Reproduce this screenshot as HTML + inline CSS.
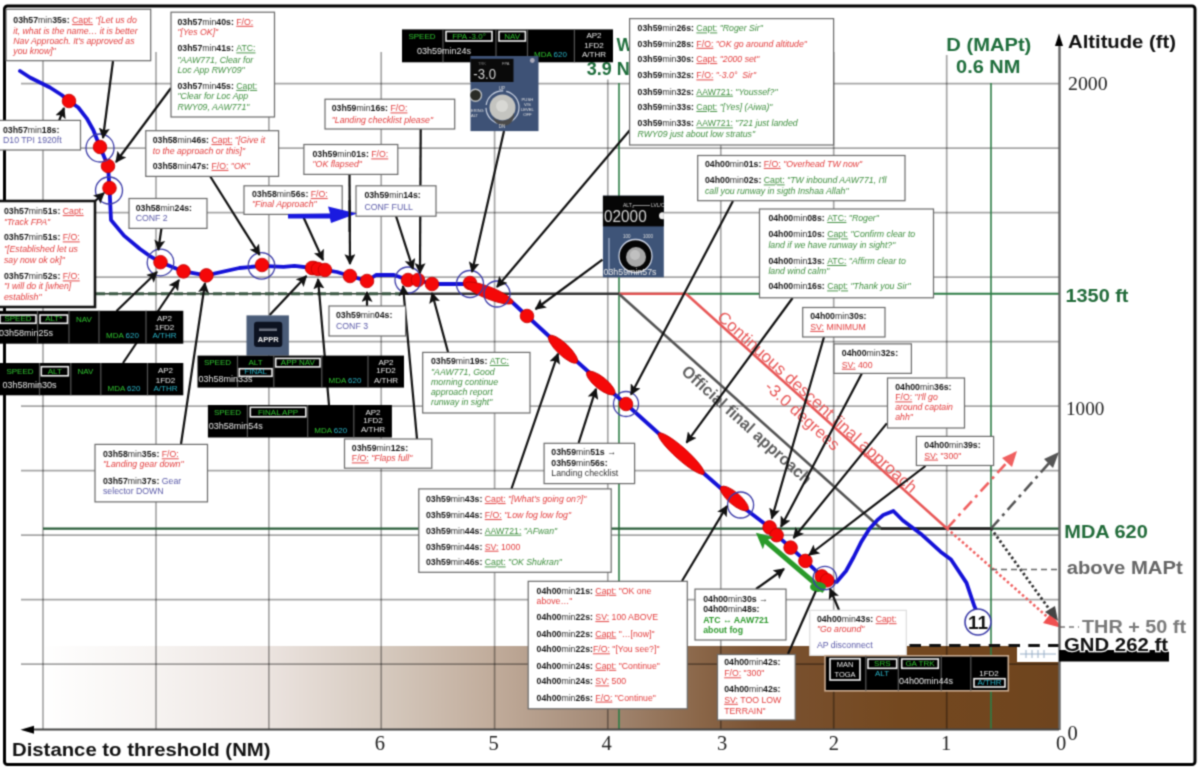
<!DOCTYPE html>
<html><head><meta charset="utf-8">
<style>
html,body{margin:0;padding:0;background:#fff;overflow:hidden;}
svg{display:block;font-family:"Liberation Sans",sans-serif;}
.serif{font-family:"Liberation Serif",serif;}
</style></head><body>
<svg width="1200" height="770" viewBox="0 0 1200 770">
<filter id="blr" x="0" y="0" width="1200" height="770" filterUnits="userSpaceOnUse" color-interpolation-filters="sRGB"><feConvolveMatrix order="3" kernelMatrix="0.04 0.12 0.04 0.12 0.36 0.12 0.04 0.12 0.04" edgeMode="duplicate"/></filter><g filter="url(#blr)"><defs>
<linearGradient id="gnd" x1="40" y1="0" x2="1059" y2="0" gradientUnits="userSpaceOnUse">
<stop offset="0.000" stop-color="#ffffff"/>
<stop offset="0.108" stop-color="#f7f4f2"/>
<stop offset="0.226" stop-color="#ebe3df"/>
<stop offset="0.334" stop-color="#d6cabf"/>
<stop offset="0.447" stop-color="#c0ab9a"/>
<stop offset="0.550" stop-color="#a48a76"/>
<stop offset="0.648" stop-color="#8a6648"/>
<stop offset="0.707" stop-color="#7a5232"/>
<stop offset="0.844" stop-color="#74481f"/>
<stop offset="1.000" stop-color="#6e441e"/>
</linearGradient>
<marker id="ah" viewBox="0 0 10 10" refX="9" refY="5" markerWidth="5" markerHeight="5" markerUnits="strokeWidth" orient="auto"><path d="M0,0 L10,5 L0,10 L2,5 z" fill="#111"/></marker>
<marker id="ahr" viewBox="0 0 10 10" refX="9" refY="5" markerWidth="5" markerHeight="5" markerUnits="strokeWidth" orient="auto"><path d="M0,0 L10,5 L0,10 L2,5 z" fill="#f05858"/></marker>
<marker id="ahg" viewBox="0 0 10 10" refX="9" refY="5" markerWidth="5" markerHeight="5" markerUnits="strokeWidth" orient="auto"><path d="M0,0 L10,5 L0,10 L2,5 z" fill="#666"/></marker>
<marker id="ahgr" viewBox="0 0 10 10" refX="5" refY="5" markerWidth="3.2" markerHeight="3.2" markerUnits="strokeWidth" orient="auto"><path d="M0,0 L10,5 L0,10 L2,5 z" fill="#2a9a2a"/></marker>
</defs>
<rect x="0" y="0" width="1200" height="770" fill="#fff"/>
<rect x="40" y="646" width="1019" height="83" fill="url(#gnd)"/>
<rect x="1017" y="645" width="42" height="17" fill="#fff"/>
<g stroke="#9ab0c8" stroke-width="1"><line x1="1020" y1="654" x2="1056" y2="654"/><line x1="1026" y1="650" x2="1026" y2="658"/><line x1="1032" y1="650" x2="1032" y2="658"/><line x1="1038" y1="650" x2="1038" y2="658"/><line x1="1044" y1="650" x2="1044" y2="658"/></g>
<g stroke="#000" stroke-opacity="0.35" stroke-width="1.7"><line x1="43" y1="52" x2="43" y2="729"/><line x1="156" y1="52" x2="156" y2="729"/><line x1="268.9" y1="52" x2="268.9" y2="729"/><line x1="381.2" y1="52" x2="381.2" y2="729"/><line x1="494.6" y1="52" x2="494.6" y2="729"/><line x1="607.8" y1="79.5" x2="607.8" y2="729"/><line x1="720.8" y1="52" x2="720.8" y2="729"/><line x1="833.7" y1="52" x2="833.7" y2="729"/><line x1="946.7" y1="55" x2="946.7" y2="729"/><line x1="21" y1="83.7" x2="1059" y2="83.7"/><line x1="21" y1="148.2" x2="1059" y2="148.2"/><line x1="21" y1="212.7" x2="1059" y2="212.7"/><line x1="21" y1="277.2" x2="1059" y2="277.2"/><line x1="21" y1="341.7" x2="1059" y2="341.7"/><line x1="21" y1="406.2" x2="1059" y2="406.2"/><line x1="21" y1="470.7" x2="1059" y2="470.7"/><line x1="21" y1="535.2" x2="1059" y2="535.2"/><line x1="21" y1="599.7" x2="1059" y2="599.7"/><line x1="21" y1="664.2" x2="1059" y2="664.2"/></g>
<line x1="619" y1="83" x2="619" y2="729" stroke="#2e7d46" stroke-width="1.6"/>
<line x1="991" y1="83" x2="991" y2="729" stroke="#2e7d46" stroke-width="1.6"/>
<line x1="43" y1="528.6" x2="1059" y2="528.6" stroke="#2a5e3a" stroke-width="2.2"/>
<line x1="96" y1="293.8" x2="400" y2="293.8" stroke="#2b3b2f" stroke-width="1.4"/>
<line x1="96" y1="293.8" x2="400" y2="293.8" stroke="#3d5a45" stroke-width="3" stroke-dasharray="9,4"/>
<line x1="400" y1="293.8" x2="619" y2="293.8" stroke="#333" stroke-width="2.6"/>
<line x1="619" y1="293.8" x2="1059" y2="293.8" stroke="#2e7d46" stroke-width="2"/>
<line x1="619" y1="293.8" x2="686" y2="293.8" stroke="#e05050" stroke-width="2.4"/>
<polyline points="619,294 880.8,528.3" fill="none" stroke="#555" stroke-width="2.6"/>
<line x1="880.8" y1="528.6" x2="991" y2="528.6" stroke="#222" stroke-width="2.8"/>
<line x1="686" y1="293.8" x2="947" y2="528.5" stroke="#e85858" stroke-width="2.6"/>
<line x1="947" y1="528.5" x2="1052" y2="621" stroke="#f06060" stroke-width="2.6" stroke-dasharray="2.5,2.5"/>
<path d="M1062,628 L1043,623 L1051,613 z" fill="#f05050"/>
<line x1="947" y1="528.5" x2="1010" y2="459" stroke="#f06060" stroke-width="2.6" stroke-dasharray="12,5,3,5"/>
<path d="M1017,451 L1002,458 L1012,467 z" fill="#f06060"/>
<line x1="991" y1="528.5" x2="1051" y2="461" stroke="#555" stroke-width="2.6" stroke-dasharray="12,5,3,5"/>
<path d="M1059,452 L1044,459 L1053,468 z" fill="#555"/>
<line x1="991" y1="528.5" x2="1052" y2="613" stroke="#333" stroke-width="2.8" stroke-dasharray="2.5,2.5"/>
<path d="M1058,621 L1045,612 L1055,606 z" fill="#444"/>
<line x1="991" y1="569.5" x2="1059" y2="569.5" stroke="#666" stroke-width="1.3" stroke-dasharray="6,4"/>
<line x1="1060" y1="627" x2="1079" y2="627" stroke="#777" stroke-width="1.4" stroke-dasharray="5,4"/>
<line x1="907" y1="645.5" x2="1059" y2="645.5" stroke="#111" stroke-width="2.8" stroke-dasharray="11.5,8.3" stroke-dashoffset="17.3"/>
<text transform="translate(743,429) rotate(42)" text-anchor="middle" font-size="16.5" font-weight="bold" fill="#5f5f5f" textLength="168" lengthAdjust="spacingAndGlyphs">Official final approach</text>
<text transform="translate(813.6,406.2) rotate(42)" text-anchor="middle" font-size="16.5" fill="#e85a5a" textLength="262" lengthAdjust="spacingAndGlyphs">Continuous descent final approach</text>
<text transform="translate(798.8,419.8) rotate(42)" text-anchor="middle" font-size="16.5" fill="#e85a5a" textLength="94" lengthAdjust="spacingAndGlyphs">-3.0 degrees</text>
<rect x="4.5" y="6" width="1190.5" height="758.5" rx="3" fill="none" stroke="#000" stroke-width="3"/>
<polyline points="20,71 30,77.5 50,87.5 61.7,95 69,101 78.3,107.5 86.7,118.3 93.3,130 100,147 108,166 109.5,188 111,220 124,235.6 140,249 149.5,255.8 160.5,262.2 183.5,271.4 206.4,275.4 239.4,268 261.5,265.9 283.5,266.8 294.5,265.9 312,268 325,270 337,272 350,276 367,281 376,275 394,275 408,280 418,280 432,284 442,284 456,284 470,284 497,294 512,302 527,316 563,349 601,383 626,404 681,453.5 740,505 769.6,527.4 776.6,535.2 790.6,547.6 805.4,560.9 821.8,576.4 827.2,580.3 836.6,581.9 846,571 853.7,557 861.5,541.4 869.3,529 877,520.4 883.3,515 893.4,511 902.9,520.5 922,534.8 940.5,551.7 951,559.5 966.5,582.9 974.3,606 977,612" fill="none" stroke="#1512d8" stroke-width="3.8" stroke-linejoin="round" stroke-linecap="round"/>
<circle cx="69" cy="101" r="6.8" fill="#f50808" stroke="#c00000" stroke-width="0.8"/>
<circle cx="100" cy="147" r="6.8" fill="#f50808" stroke="#c00000" stroke-width="0.8"/>
<circle cx="108" cy="166" r="6.8" fill="#f50808" stroke="#c00000" stroke-width="0.8"/>
<circle cx="109.5" cy="188" r="6.8" fill="#f50808" stroke="#c00000" stroke-width="0.8"/>
<circle cx="160.5" cy="262.2" r="6.8" fill="#f50808" stroke="#c00000" stroke-width="0.8"/>
<circle cx="183.5" cy="271.4" r="6.8" fill="#f50808" stroke="#c00000" stroke-width="0.8"/>
<circle cx="206.4" cy="275.4" r="6.8" fill="#f50808" stroke="#c00000" stroke-width="0.8"/>
<circle cx="262" cy="265" r="6.8" fill="#f50808" stroke="#c00000" stroke-width="0.8"/>
<circle cx="313.8" cy="268" r="6.8" fill="#f50808" stroke="#c00000" stroke-width="0.8"/>
<circle cx="312" cy="268" r="6.8" fill="#f50808" stroke="#c00000" stroke-width="0.8"/>
<circle cx="318" cy="269" r="6.8" fill="#f50808" stroke="#c00000" stroke-width="0.8"/>
<circle cx="325" cy="270" r="6.8" fill="#f50808" stroke="#c00000" stroke-width="0.8"/>
<circle cx="350" cy="276" r="6.8" fill="#f50808" stroke="#c00000" stroke-width="0.8"/>
<circle cx="367" cy="281" r="6.8" fill="#f50808" stroke="#c00000" stroke-width="0.8"/>
<circle cx="408" cy="280" r="6.8" fill="#f50808" stroke="#c00000" stroke-width="0.8"/>
<circle cx="418" cy="280" r="6.8" fill="#f50808" stroke="#c00000" stroke-width="0.8"/>
<circle cx="432" cy="284" r="6.8" fill="#f50808" stroke="#c00000" stroke-width="0.8"/>
<circle cx="470" cy="283" r="6.8" fill="#f50808" stroke="#c00000" stroke-width="0.8"/>
<circle cx="527" cy="316" r="6.8" fill="#f50808" stroke="#c00000" stroke-width="0.8"/>
<circle cx="626" cy="404" r="6.8" fill="#f50808" stroke="#c00000" stroke-width="0.8"/>
<circle cx="769.6" cy="527.4" r="6.8" fill="#f50808" stroke="#c00000" stroke-width="0.8"/>
<circle cx="776.6" cy="535.2" r="6.8" fill="#f50808" stroke="#c00000" stroke-width="0.8"/>
<circle cx="790.6" cy="547.6" r="6.8" fill="#f50808" stroke="#c00000" stroke-width="0.8"/>
<circle cx="805.4" cy="560.9" r="6.8" fill="#f50808" stroke="#c00000" stroke-width="0.8"/>
<circle cx="821.8" cy="576.4" r="6.8" fill="#f50808" stroke="#c00000" stroke-width="0.8"/>
<circle cx="827.2" cy="580.3" r="6.8" fill="#f50808" stroke="#c00000" stroke-width="0.8"/>
<ellipse cx="489.0" cy="293.0" rx="25.8" ry="6.0" transform="rotate(21.6 489.0 293.0)" fill="#f50808" stroke="#c00000" stroke-width="0.8"/>
<ellipse cx="563.0" cy="349.2" rx="19.3" ry="6.0" transform="rotate(43.4 563.0 349.2)" fill="#f50808" stroke="#c00000" stroke-width="0.8"/>
<ellipse cx="600.8" cy="383.0" rx="17.6" ry="6.0" transform="rotate(38.7 600.8 383.0)" fill="#f50808" stroke="#c00000" stroke-width="0.8"/>
<ellipse cx="681.2" cy="453.6" rx="30.5" ry="6.0" transform="rotate(41.7 681.2 453.6)" fill="#f50808" stroke="#c00000" stroke-width="0.8"/>
<ellipse cx="734.4" cy="498.5" rx="17.7" ry="6.0" transform="rotate(40.6 734.4 498.5)" fill="#f50808" stroke="#c00000" stroke-width="0.8"/>
<line x1="824" y1="591" x2="762" y2="538" stroke="#2a9a2a" stroke-width="5" marker-end="url(#ahgr)"/>
<ellipse cx="818" cy="587" rx="8" ry="5" fill="#2a9a2a"/>
<circle cx="100" cy="148" r="14" fill="none" stroke="#3c3ca8" stroke-width="1.3"/>
<circle cx="109" cy="190.5" r="13.5" fill="none" stroke="#3c3ca8" stroke-width="1.3"/>
<circle cx="160.5" cy="262.5" r="13.3" fill="none" stroke="#3c3ca8" stroke-width="1.3"/>
<circle cx="261.5" cy="265.9" r="13.3" fill="none" stroke="#3c3ca8" stroke-width="1.3"/>
<circle cx="408" cy="280" r="13" fill="none" stroke="#3c3ca8" stroke-width="1.3"/>
<circle cx="470" cy="284" r="13.5" fill="none" stroke="#3c3ca8" stroke-width="1.3"/>
<circle cx="497" cy="294" r="13" fill="none" stroke="#3c3ca8" stroke-width="1.3"/>
<circle cx="626" cy="404" r="12.5" fill="none" stroke="#3c3ca8" stroke-width="1.3"/>
<circle cx="740.6" cy="505" r="13" fill="none" stroke="#3c3ca8" stroke-width="1.3"/>
<circle cx="824.9" cy="578" r="11.7" fill="none" stroke="#3c3ca8" stroke-width="1.3"/>
<circle cx="978" cy="622" r="13" fill="#fff" stroke="#3c3ca8" stroke-width="1.6"/>
<text x="978" y="629" font-size="19" font-weight="bold" text-anchor="middle" fill="#111">11</text>
<line x1="113" y1="61" x2="103" y2="138" stroke="#111" stroke-width="2.2" marker-end="url(#ah)"/>
<line x1="171" y1="88" x2="116" y2="162" stroke="#111" stroke-width="2.2" marker-end="url(#ah)"/>
<line x1="59" y1="121" x2="64" y2="108" stroke="#111" stroke-width="2.2" marker-end="url(#ah)"/>
<line x1="93" y1="203" x2="104" y2="193" stroke="#111" stroke-width="2.2" marker-end="url(#ah)"/>
<line x1="210" y1="176" x2="259.6" y2="254.9" stroke="#111" stroke-width="2.2" marker-end="url(#ah)"/>
<line x1="161.5" y1="228" x2="158.3" y2="250" stroke="#111" stroke-width="2.2" marker-end="url(#ah)"/>
<line x1="302" y1="214" x2="323" y2="260" stroke="#111" stroke-width="2.2" marker-end="url(#ah)"/>
<line x1="349.5" y1="174" x2="350" y2="264" stroke="#111" stroke-width="2.2" marker-end="url(#ah)"/>
<line x1="420.7" y1="129" x2="420" y2="273" stroke="#111" stroke-width="2.2" marker-end="url(#ah)"/>
<line x1="396" y1="216" x2="413" y2="269" stroke="#111" stroke-width="2.2" marker-end="url(#ah)"/>
<line x1="504" y1="131" x2="472" y2="272" stroke="#111" stroke-width="2.2" marker-end="url(#ah)"/>
<line x1="630" y1="130" x2="497" y2="287" stroke="#111" stroke-width="2.2" marker-end="url(#ah)"/>
<line x1="269.7" y1="315" x2="306.4" y2="276" stroke="#111" stroke-width="2.2" marker-end="url(#ah)"/>
<line x1="116.5" y1="311" x2="157" y2="272" stroke="#111" stroke-width="2.2" marker-end="url(#ah)"/>
<line x1="123" y1="363" x2="179" y2="280" stroke="#111" stroke-width="2.2" marker-end="url(#ah)"/>
<line x1="181" y1="444" x2="205" y2="283" stroke="#111" stroke-width="2.2" marker-end="url(#ah)"/>
<line x1="329" y1="405" x2="318" y2="279" stroke="#111" stroke-width="2.2" marker-end="url(#ah)"/>
<line x1="367" y1="306" x2="367" y2="292" stroke="#111" stroke-width="2.2" marker-end="url(#ah)"/>
<line x1="417" y1="439" x2="403" y2="286" stroke="#111" stroke-width="2.2" marker-end="url(#ah)"/>
<line x1="448" y1="352" x2="432" y2="293" stroke="#111" stroke-width="2.2" marker-end="url(#ah)"/>
<line x1="602.5" y1="259.7" x2="535.6" y2="309" stroke="#111" stroke-width="2.2" marker-end="url(#ah)"/>
<line x1="733" y1="201" x2="631" y2="394.6" stroke="#111" stroke-width="2.2" marker-end="url(#ah)"/>
<line x1="511.4" y1="489" x2="558" y2="353.7" stroke="#111" stroke-width="2.2" marker-end="url(#ah)"/>
<line x1="578.6" y1="443" x2="596" y2="388.8" stroke="#111" stroke-width="2.2" marker-end="url(#ah)"/>
<line x1="792.6" y1="298" x2="686.5" y2="442.6" stroke="#111" stroke-width="2.2" marker-end="url(#ah)"/>
<line x1="682" y1="581" x2="727" y2="506" stroke="#111" stroke-width="2.2" marker-end="url(#ah)"/>
<line x1="824" y1="337" x2="771.8" y2="518.5" stroke="#111" stroke-width="2.2" marker-end="url(#ah)"/>
<line x1="861.8" y1="373.4" x2="781" y2="526.8" stroke="#111" stroke-width="2.2" marker-end="url(#ah)"/>
<line x1="886.8" y1="423.4" x2="793.6" y2="538" stroke="#111" stroke-width="2.2" marker-end="url(#ah)"/>
<line x1="925.5" y1="466" x2="809" y2="555" stroke="#111" stroke-width="2.2" marker-end="url(#ah)"/>
<line x1="756" y1="589" x2="784" y2="569" stroke="#111" stroke-width="2.2" marker-end="url(#ah)"/>
<line x1="839" y1="610" x2="830" y2="588.7" stroke="#111" stroke-width="2.2" marker-end="url(#ah)"/>
<line x1="788" y1="654" x2="815.8" y2="591" stroke="#111" stroke-width="2.2"/>
<text x="616.4" y="51.4" font-size="18" font-weight="bold" fill="#1f6e3c">W</text>
<text x="586.8" y="74.5" font-size="18" font-weight="bold" fill="#1f6e3c">3.9 NM</text>
<rect x="6" y="9.3" width="144.7" height="51.400000000000006" fill="#fff" stroke="#6a6a6a" stroke-width="1.2"/>
<text transform="translate(13.3,23.099999999999998) scale(0.94,1)" x="0" y="0" font-size="9.309" style="white-space:pre"><tspan font-weight="bold" fill="#151515">03h57</tspan><tspan fill="#2e2e2e">min</tspan><tspan font-weight="bold" fill="#151515">35s: </tspan><tspan fill="#e23c3c" text-decoration="underline">Capt:</tspan><tspan fill="#e23c3c" font-style="italic"> "[Let us do</tspan></text>
<text transform="translate(13.3,33.699999999999996) scale(0.94,1)" x="0" y="0" font-size="9.309" style="white-space:pre"><tspan fill="#e23c3c" font-style="italic">it, what is the name… it is better</tspan></text>
<text transform="translate(13.3,44.4) scale(0.94,1)" x="0" y="0" font-size="9.309" style="white-space:pre"><tspan fill="#e23c3c" font-style="italic">Nav Approach. It's approved as</tspan></text>
<text transform="translate(13.3,54.4) scale(0.94,1)" x="0" y="0" font-size="9.309" style="white-space:pre"><tspan fill="#e23c3c" font-style="italic">you know]"</tspan></text>
<rect x="171" y="12.2" width="103.5" height="104.8" fill="#fff" stroke="#6a6a6a" stroke-width="1.2"/>
<text transform="translate(177.5,24.799999999999997) scale(0.94,1)" x="0" y="0" font-size="9.309" style="white-space:pre"><tspan font-weight="bold" fill="#151515">03h57</tspan><tspan fill="#2e2e2e">min</tspan><tspan font-weight="bold" fill="#151515">40s: </tspan><tspan fill="#e23c3c" text-decoration="underline">F/O:</tspan></text>
<text transform="translate(177.5,35.4) scale(0.94,1)" x="0" y="0" font-size="9.309" style="white-space:pre"><tspan fill="#e23c3c" font-style="italic">"[Yes OK]"</tspan></text>
<text transform="translate(177.5,51.4) scale(0.94,1)" x="0" y="0" font-size="9.309" style="white-space:pre"><tspan font-weight="bold" fill="#151515">03h57</tspan><tspan fill="#2e2e2e">min</tspan><tspan font-weight="bold" fill="#151515">41s: </tspan><tspan fill="#3f8f3f" text-decoration="underline">ATC:</tspan></text>
<text transform="translate(177.5,62.9) scale(0.94,1)" x="0" y="0" font-size="9.309" style="white-space:pre"><tspan fill="#3f8f3f" font-style="italic">"AAW771, Clear for</tspan></text>
<text transform="translate(177.5,73.4) scale(0.94,1)" x="0" y="0" font-size="9.309" style="white-space:pre"><tspan fill="#3f8f3f" font-style="italic">Loc App RWY09"</tspan></text>
<text transform="translate(177.5,88.9) scale(0.94,1)" x="0" y="0" font-size="9.309" style="white-space:pre"><tspan font-weight="bold" fill="#151515">03h57</tspan><tspan fill="#2e2e2e">min</tspan><tspan font-weight="bold" fill="#151515">45s: </tspan><tspan fill="#3f8f3f" text-decoration="underline">Capt:</tspan></text>
<text transform="translate(177.5,99.4) scale(0.94,1)" x="0" y="0" font-size="9.309" style="white-space:pre"><tspan fill="#3f8f3f" font-style="italic">"Clear for Loc App</tspan></text>
<text transform="translate(177.5,110.0) scale(0.94,1)" x="0" y="0" font-size="9.309" style="white-space:pre"><tspan fill="#3f8f3f" font-style="italic">RWY09, AAW771"</tspan></text>
<rect x="-2" y="120.4" width="82.5" height="29.599999999999994" fill="#fff" stroke="#6a6a6a" stroke-width="1.2"/>
<text transform="translate(3,133.1) scale(0.94,1)" x="0" y="0" font-size="9.309" style="white-space:pre"><tspan font-weight="bold" fill="#151515">03h57</tspan><tspan fill="#2e2e2e">min</tspan><tspan font-weight="bold" fill="#151515">18s:</tspan></text>
<text transform="translate(3,143.4) scale(0.94,1)" x="0" y="0" font-size="9.309" style="white-space:pre"><tspan fill="#5a5aa8">D10 TPI 1920ft</tspan></text>
<rect x="145.8" y="130.7" width="132.8" height="45.70000000000002" fill="#fff" stroke="#6a6a6a" stroke-width="1.2"/>
<text transform="translate(152.7,143.1) scale(0.94,1)" x="0" y="0" font-size="9.309" style="white-space:pre"><tspan font-weight="bold" fill="#151515">03h58</tspan><tspan fill="#2e2e2e">min</tspan><tspan font-weight="bold" fill="#151515">46s: </tspan><tspan fill="#e23c3c" text-decoration="underline">Capt:</tspan><tspan fill="#e23c3c" font-style="italic"> "[Give it</tspan></text>
<text transform="translate(152.7,153.6) scale(0.94,1)" x="0" y="0" font-size="9.309" style="white-space:pre"><tspan fill="#e23c3c" font-style="italic">to the approach or this]"</tspan></text>
<text transform="translate(152.7,168.9) scale(0.94,1)" x="0" y="0" font-size="9.309" style="white-space:pre"><tspan font-weight="bold" fill="#151515">03h58</tspan><tspan fill="#2e2e2e">min</tspan><tspan font-weight="bold" fill="#151515">47s: </tspan><tspan fill="#e23c3c" text-decoration="underline">F/O:</tspan><tspan fill="#e23c3c" font-style="italic"> "OK"</tspan></text>
<rect x="-2" y="201" width="97" height="106" fill="#fff" stroke="#111" stroke-width="2.6"/>
<text transform="translate(4,214.1) scale(0.94,1)" x="0" y="0" font-size="9.309" style="white-space:pre"><tspan font-weight="bold" fill="#151515">03h57</tspan><tspan fill="#2e2e2e">min</tspan><tspan font-weight="bold" fill="#151515">51s: </tspan><tspan fill="#e23c3c" text-decoration="underline">Capt:</tspan></text>
<text transform="translate(4,225.0) scale(0.94,1)" x="0" y="0" font-size="9.309" style="white-space:pre"><tspan fill="#e23c3c" font-style="italic">"Track FPA"</tspan></text>
<text transform="translate(4,240.4) scale(0.94,1)" x="0" y="0" font-size="9.309" style="white-space:pre"><tspan font-weight="bold" fill="#151515">03h57</tspan><tspan fill="#2e2e2e">min</tspan><tspan font-weight="bold" fill="#151515">51s: </tspan><tspan fill="#e23c3c" text-decoration="underline">F/O:</tspan></text>
<text transform="translate(4,252.4) scale(0.94,1)" x="0" y="0" font-size="9.309" style="white-space:pre"><tspan fill="#e23c3c" font-style="italic">"[Established let us</tspan></text>
<text transform="translate(4,263.2) scale(0.94,1)" x="0" y="0" font-size="9.309" style="white-space:pre"><tspan fill="#e23c3c" font-style="italic">say now ok ok]"</tspan></text>
<text transform="translate(4,279.4) scale(0.94,1)" x="0" y="0" font-size="9.309" style="white-space:pre"><tspan font-weight="bold" fill="#151515">03h57</tspan><tspan fill="#2e2e2e">min</tspan><tspan font-weight="bold" fill="#151515">52s: </tspan><tspan fill="#e23c3c" text-decoration="underline">F/O:</tspan></text>
<text transform="translate(4,289.4) scale(0.94,1)" x="0" y="0" font-size="9.309" style="white-space:pre"><tspan fill="#e23c3c" font-style="italic">"I will do it [when]</tspan></text>
<text transform="translate(4,299.79999999999995) scale(0.94,1)" x="0" y="0" font-size="9.309" style="white-space:pre"><tspan fill="#e23c3c" font-style="italic">establish"</tspan></text>
<rect x="129" y="198.5" width="78" height="29.900000000000006" fill="#fff" stroke="#6a6a6a" stroke-width="1.2"/>
<text transform="translate(135.7,210.9) scale(0.94,1)" x="0" y="0" font-size="9.309" style="white-space:pre"><tspan font-weight="bold" fill="#151515">03h58</tspan><tspan fill="#2e2e2e">min</tspan><tspan font-weight="bold" fill="#151515">24s:</tspan></text>
<text transform="translate(135.7,221.4) scale(0.94,1)" x="0" y="0" font-size="9.309" style="white-space:pre"><tspan fill="#5a5aa8">CONF 2</tspan></text>
<rect x="244" y="185.8" width="98.19999999999999" height="28.599999999999994" fill="#fff" stroke="#6a6a6a" stroke-width="1.2"/>
<text transform="translate(252,197.1) scale(0.94,1)" x="0" y="0" font-size="9.309" style="white-space:pre"><tspan font-weight="bold" fill="#151515">03h58</tspan><tspan fill="#2e2e2e">min</tspan><tspan font-weight="bold" fill="#151515">56s: </tspan><tspan fill="#e23c3c" text-decoration="underline">F/O:</tspan></text>
<text transform="translate(252,207.1) scale(0.94,1)" x="0" y="0" font-size="9.309" style="white-space:pre"><tspan fill="#e23c3c" font-style="italic">"Final Approach"</tspan></text>
<rect x="303.9" y="144.5" width="93.90000000000003" height="29.900000000000006" fill="#fff" stroke="#6a6a6a" stroke-width="1.2"/>
<text transform="translate(312.5,157.4) scale(0.94,1)" x="0" y="0" font-size="9.309" style="white-space:pre"><tspan font-weight="bold" fill="#151515">03h59</tspan><tspan fill="#2e2e2e">min</tspan><tspan font-weight="bold" fill="#151515">01s: </tspan><tspan fill="#e23c3c" text-decoration="underline">F/O:</tspan></text>
<text transform="translate(312.5,167.4) scale(0.94,1)" x="0" y="0" font-size="9.309" style="white-space:pre"><tspan fill="#e23c3c" font-style="italic">"OK flapsed"</tspan></text>
<rect x="325" y="99.2" width="129.7" height="29.799999999999997" fill="#fff" stroke="#6a6a6a" stroke-width="1.2"/>
<text transform="translate(331.7,111.4) scale(0.94,1)" x="0" y="0" font-size="9.309" style="white-space:pre"><tspan font-weight="bold" fill="#151515">03h59</tspan><tspan fill="#2e2e2e">min</tspan><tspan font-weight="bold" fill="#151515">16s: </tspan><tspan fill="#e23c3c" text-decoration="underline">F/O:</tspan></text>
<text transform="translate(331.7,123.4) scale(0.94,1)" x="0" y="0" font-size="9.309" style="white-space:pre"><tspan fill="#e23c3c" font-style="italic">"Landing checklist please"</tspan></text>
<rect x="356" y="185.8" width="80" height="30.399999999999977" fill="#fff" stroke="#6a6a6a" stroke-width="1.2"/>
<text transform="translate(364.4,198.4) scale(0.94,1)" x="0" y="0" font-size="9.309" style="white-space:pre"><tspan font-weight="bold" fill="#151515">03h59</tspan><tspan fill="#2e2e2e">min</tspan><tspan font-weight="bold" fill="#151515">14s:</tspan></text>
<text transform="translate(364.4,209.70000000000002) scale(0.94,1)" x="0" y="0" font-size="9.309" style="white-space:pre"><tspan fill="#5a5aa8">CONF FULL</tspan></text>
<rect x="329" y="306" width="76.60000000000002" height="30" fill="#fff" stroke="#6a6a6a" stroke-width="1.2"/>
<text transform="translate(336,318.4) scale(0.94,1)" x="0" y="0" font-size="9.309" style="white-space:pre"><tspan font-weight="bold" fill="#151515">03h59</tspan><tspan fill="#2e2e2e">min</tspan><tspan font-weight="bold" fill="#151515">04s:</tspan></text>
<text transform="translate(336,328.9) scale(0.94,1)" x="0" y="0" font-size="9.309" style="white-space:pre"><tspan fill="#5a5aa8">CONF 3</tspan></text>
<rect x="422.7" y="352.4" width="107.30000000000001" height="60.60000000000002" fill="#fff" stroke="#6a6a6a" stroke-width="1.2"/>
<text transform="translate(431,364.0) scale(0.94,1)" x="0" y="0" font-size="9.309" style="white-space:pre"><tspan font-weight="bold" fill="#151515">03h59</tspan><tspan fill="#2e2e2e">min</tspan><tspan font-weight="bold" fill="#151515">19s: </tspan><tspan fill="#3f8f3f" text-decoration="underline">ATC:</tspan></text>
<text transform="translate(431,374.9) scale(0.94,1)" x="0" y="0" font-size="9.309" style="white-space:pre"><tspan fill="#3f8f3f" font-style="italic">"AAW771, Good</tspan></text>
<text transform="translate(431,384.9) scale(0.94,1)" x="0" y="0" font-size="9.309" style="white-space:pre"><tspan fill="#3f8f3f" font-style="italic">morning continue</tspan></text>
<text transform="translate(431,394.9) scale(0.94,1)" x="0" y="0" font-size="9.309" style="white-space:pre"><tspan fill="#3f8f3f" font-style="italic">approach report</tspan></text>
<text transform="translate(431,404.9) scale(0.94,1)" x="0" y="0" font-size="9.309" style="white-space:pre"><tspan fill="#3f8f3f" font-style="italic">runway in sight"</tspan></text>
<rect x="344.5" y="439" width="87.30000000000001" height="29.19999999999999" fill="#fff" stroke="#6a6a6a" stroke-width="1.2"/>
<text transform="translate(351.8,451.4) scale(0.94,1)" x="0" y="0" font-size="9.309" style="white-space:pre"><tspan font-weight="bold" fill="#151515">03h59</tspan><tspan fill="#2e2e2e">min</tspan><tspan font-weight="bold" fill="#151515">12s:</tspan></text>
<text transform="translate(351.8,461.4) scale(0.94,1)" x="0" y="0" font-size="9.309" style="white-space:pre"><tspan fill="#e23c3c" text-decoration="underline">F/O:</tspan><tspan fill="#e23c3c" font-style="italic"> "Flaps full"</tspan></text>
<rect x="95" y="444.4" width="112.5" height="57.5" fill="#fff" stroke="#6a6a6a" stroke-width="1.2"/>
<text transform="translate(103,457.29999999999995) scale(0.94,1)" x="0" y="0" font-size="9.309" style="white-space:pre"><tspan font-weight="bold" fill="#151515">03h58</tspan><tspan fill="#2e2e2e">min</tspan><tspan font-weight="bold" fill="#151515">35s: </tspan><tspan fill="#e23c3c" text-decoration="underline">F/O:</tspan></text>
<text transform="translate(103,466.7) scale(0.94,1)" x="0" y="0" font-size="9.309" style="white-space:pre"><tspan fill="#e23c3c" font-style="italic">"Landing gear down"</tspan></text>
<text transform="translate(103,484.2) scale(0.94,1)" x="0" y="0" font-size="9.309" style="white-space:pre"><tspan font-weight="bold" fill="#151515">03h57</tspan><tspan fill="#2e2e2e">min</tspan><tspan font-weight="bold" fill="#151515">37s: </tspan><tspan fill="#5a5aa8">Gear</tspan></text>
<text transform="translate(103,494.2) scale(0.94,1)" x="0" y="0" font-size="9.309" style="white-space:pre"><tspan fill="#5a5aa8">selector DOWN</tspan></text>
<rect x="629.6" y="18.6" width="204.0" height="126.4" fill="#fff" stroke="#6a6a6a" stroke-width="1.2"/>
<text transform="translate(637.6,31.4) scale(0.94,1)" x="0" y="0" font-size="9.309" style="white-space:pre"><tspan font-weight="bold" fill="#151515">03h59</tspan><tspan fill="#2e2e2e">min</tspan><tspan font-weight="bold" fill="#151515">26s: </tspan><tspan fill="#3f8f3f" text-decoration="underline">Capt:</tspan><tspan fill="#3f8f3f" font-style="italic"> "Roger Sir"</tspan></text>
<text transform="translate(637.6,46.8) scale(0.94,1)" x="0" y="0" font-size="9.309" style="white-space:pre"><tspan font-weight="bold" fill="#151515">03h59</tspan><tspan fill="#2e2e2e">min</tspan><tspan font-weight="bold" fill="#151515">28s: </tspan><tspan fill="#e23c3c" text-decoration="underline">F/O:</tspan><tspan fill="#e23c3c" font-style="italic"> "OK go around altitude"</tspan></text>
<text transform="translate(637.6,62.1) scale(0.94,1)" x="0" y="0" font-size="9.309" style="white-space:pre"><tspan font-weight="bold" fill="#151515">03h59</tspan><tspan fill="#2e2e2e">min</tspan><tspan font-weight="bold" fill="#151515">30s: </tspan><tspan fill="#e23c3c" text-decoration="underline">Capt:</tspan><tspan fill="#e23c3c" font-style="italic"> "2000 set"</tspan></text>
<text transform="translate(637.6,78.4) scale(0.94,1)" x="0" y="0" font-size="9.309" style="white-space:pre"><tspan font-weight="bold" fill="#151515">03h59</tspan><tspan fill="#2e2e2e">min</tspan><tspan font-weight="bold" fill="#151515">32s: </tspan><tspan fill="#e23c3c" text-decoration="underline">F/O:</tspan><tspan fill="#e23c3c" font-style="italic"> "-3.0°  Sir"</tspan></text>
<text transform="translate(637.6,94.7) scale(0.94,1)" x="0" y="0" font-size="9.309" style="white-space:pre"><tspan font-weight="bold" fill="#151515">03h59</tspan><tspan fill="#2e2e2e">min</tspan><tspan font-weight="bold" fill="#151515">32s: </tspan><tspan fill="#3f8f3f" text-decoration="underline">AAW721:</tspan><tspan fill="#3f8f3f" font-style="italic"> "Youssef?"</tspan></text>
<text transform="translate(637.6,110.0) scale(0.94,1)" x="0" y="0" font-size="9.309" style="white-space:pre"><tspan font-weight="bold" fill="#151515">03h59</tspan><tspan fill="#2e2e2e">min</tspan><tspan font-weight="bold" fill="#151515">33s: </tspan><tspan fill="#3f8f3f" text-decoration="underline">Capt:</tspan><tspan fill="#3f8f3f" font-style="italic"> "[Yes] (Aiwa)"</tspan></text>
<text transform="translate(637.6,126.4) scale(0.94,1)" x="0" y="0" font-size="9.309" style="white-space:pre"><tspan font-weight="bold" fill="#151515">03h59</tspan><tspan fill="#2e2e2e">min</tspan><tspan font-weight="bold" fill="#151515">33s: </tspan><tspan fill="#3f8f3f" text-decoration="underline">AAW721:</tspan><tspan fill="#3f8f3f" font-style="italic"> "721 just landed</tspan></text>
<text transform="translate(637.6,136.8) scale(0.94,1)" x="0" y="0" font-size="9.309" style="white-space:pre"><tspan fill="#3f8f3f" font-style="italic">RWY09 just about low stratus"</tspan></text>
<rect x="697.7" y="155.5" width="207.29999999999995" height="45.19999999999999" fill="#fff" stroke="#6a6a6a" stroke-width="1.2"/>
<text transform="translate(705,166.9) scale(0.94,1)" x="0" y="0" font-size="9.309" style="white-space:pre"><tspan font-weight="bold" fill="#151515">04h00</tspan><tspan fill="#2e2e2e">min</tspan><tspan font-weight="bold" fill="#151515">01s: </tspan><tspan fill="#e23c3c" text-decoration="underline">F/O:</tspan><tspan fill="#e23c3c" font-style="italic"> "Overhead TW now"</tspan></text>
<text transform="translate(705,183.4) scale(0.94,1)" x="0" y="0" font-size="9.309" style="white-space:pre"><tspan font-weight="bold" fill="#151515">04h00</tspan><tspan fill="#2e2e2e">min</tspan><tspan font-weight="bold" fill="#151515">02s: </tspan><tspan fill="#3f8f3f" text-decoration="underline">Capt:</tspan><tspan fill="#3f8f3f" font-style="italic"> "TW inbound AAW771, I'll</tspan></text>
<text transform="translate(705,194.4) scale(0.94,1)" x="0" y="0" font-size="9.309" style="white-space:pre"><tspan fill="#3f8f3f" font-style="italic">call you runway in sigth Inshaa Allah"</tspan></text>
<rect x="759.5" y="209" width="174.0" height="88.80000000000001" fill="#fff" stroke="#6a6a6a" stroke-width="1.2"/>
<text transform="translate(768.4,221.0) scale(0.94,1)" x="0" y="0" font-size="9.309" style="white-space:pre"><tspan font-weight="bold" fill="#151515">04h00</tspan><tspan fill="#2e2e2e">min</tspan><tspan font-weight="bold" fill="#151515">08s: </tspan><tspan fill="#3f8f3f" text-decoration="underline">ATC:</tspan><tspan fill="#3f8f3f" font-style="italic"> "Roger"</tspan></text>
<text transform="translate(768.4,237.4) scale(0.94,1)" x="0" y="0" font-size="9.309" style="white-space:pre"><tspan font-weight="bold" fill="#151515">04h00</tspan><tspan fill="#2e2e2e">min</tspan><tspan font-weight="bold" fill="#151515">10s: </tspan><tspan fill="#3f8f3f" text-decoration="underline">Capt:</tspan><tspan fill="#3f8f3f" font-style="italic"> "Confirm clear to</tspan></text>
<text transform="translate(768.4,248.4) scale(0.94,1)" x="0" y="0" font-size="9.309" style="white-space:pre"><tspan fill="#3f8f3f" font-style="italic">land if we have runway in sight?"</tspan></text>
<text transform="translate(768.4,264.0) scale(0.94,1)" x="0" y="0" font-size="9.309" style="white-space:pre"><tspan font-weight="bold" fill="#151515">04h00</tspan><tspan fill="#2e2e2e">min</tspan><tspan font-weight="bold" fill="#151515">13s: </tspan><tspan fill="#3f8f3f" text-decoration="underline">ATC:</tspan><tspan fill="#3f8f3f" font-style="italic"> "Affirm clear to</tspan></text>
<text transform="translate(768.4,273.9) scale(0.94,1)" x="0" y="0" font-size="9.309" style="white-space:pre"><tspan fill="#3f8f3f" font-style="italic">land wind calm"</tspan></text>
<text transform="translate(768.4,289.4) scale(0.94,1)" x="0" y="0" font-size="9.309" style="white-space:pre"><tspan font-weight="bold" fill="#151515">04h00</tspan><tspan fill="#2e2e2e">min</tspan><tspan font-weight="bold" fill="#151515">16s: </tspan><tspan fill="#3f8f3f" text-decoration="underline">Capt:</tspan><tspan fill="#3f8f3f" font-style="italic"> "Thank you Sir"</tspan></text>
<rect x="802.7" y="307.5" width="82.29999999999995" height="29.5" fill="#fff" stroke="#6a6a6a" stroke-width="1.2"/>
<text transform="translate(810.2,319.29999999999995) scale(0.94,1)" x="0" y="0" font-size="9.309" style="white-space:pre"><tspan font-weight="bold" fill="#151515">04h00</tspan><tspan fill="#2e2e2e">min</tspan><tspan font-weight="bold" fill="#151515">30s:</tspan></text>
<text transform="translate(810.2,329.9) scale(0.94,1)" x="0" y="0" font-size="9.309" style="white-space:pre"><tspan fill="#e23c3c" text-decoration="underline">SV:</tspan><tspan fill="#e23c3c"> MINIMUM</tspan></text>
<rect x="834" y="343.9" width="77.39999999999998" height="29.5" fill="#fff" stroke="#6a6a6a" stroke-width="1.2"/>
<text transform="translate(841.8,356.4) scale(0.94,1)" x="0" y="0" font-size="9.309" style="white-space:pre"><tspan font-weight="bold" fill="#151515">04h00</tspan><tspan fill="#2e2e2e">min</tspan><tspan font-weight="bold" fill="#151515">32s:</tspan></text>
<text transform="translate(841.8,367.7) scale(0.94,1)" x="0" y="0" font-size="9.309" style="white-space:pre"><tspan fill="#e23c3c" text-decoration="underline">SV:</tspan><tspan fill="#e23c3c"> 400</tspan></text>
<rect x="887.5" y="378" width="77.0" height="50" fill="#fff" stroke="#6a6a6a" stroke-width="1.2"/>
<text transform="translate(895.2,389.7) scale(0.94,1)" x="0" y="0" font-size="9.309" style="white-space:pre"><tspan font-weight="bold" fill="#151515">04h00</tspan><tspan fill="#2e2e2e">min</tspan><tspan font-weight="bold" fill="#151515">36s:</tspan></text>
<text transform="translate(895.2,400.4) scale(0.94,1)" x="0" y="0" font-size="9.309" style="white-space:pre"><tspan fill="#e23c3c" text-decoration="underline">F/O:</tspan><tspan fill="#e23c3c" font-style="italic"> "I'll go</tspan></text>
<text transform="translate(895.2,410.2) scale(0.94,1)" x="0" y="0" font-size="9.309" style="white-space:pre"><tspan fill="#e23c3c" font-style="italic">around captain</tspan></text>
<text transform="translate(895.2,420.4) scale(0.94,1)" x="0" y="0" font-size="9.309" style="white-space:pre"><tspan fill="#e23c3c" font-style="italic">ahh"</tspan></text>
<rect x="916.4" y="436.4" width="77.20000000000005" height="29.100000000000023" fill="#fff" stroke="#6a6a6a" stroke-width="1.2"/>
<text transform="translate(924.3,448.09999999999997) scale(0.94,1)" x="0" y="0" font-size="9.309" style="white-space:pre"><tspan font-weight="bold" fill="#151515">04h00</tspan><tspan fill="#2e2e2e">min</tspan><tspan font-weight="bold" fill="#151515">39s:</tspan></text>
<text transform="translate(924.3,458.59999999999997) scale(0.94,1)" x="0" y="0" font-size="9.309" style="white-space:pre"><tspan fill="#e23c3c" text-decoration="underline">SV:</tspan><tspan fill="#e23c3c"> "300"</tspan></text>
<rect x="544.1" y="443.3" width="90.5" height="40.30000000000001" fill="#fff" stroke="#6a6a6a" stroke-width="1.2"/>
<text transform="translate(551.3,455.4) scale(0.94,1)" x="0" y="0" font-size="9.309" style="white-space:pre"><tspan font-weight="bold" fill="#151515">03h59</tspan><tspan fill="#2e2e2e">min</tspan><tspan font-weight="bold" fill="#151515">51s </tspan><tspan fill="#333">→</tspan></text>
<text transform="translate(551.3,465.9) scale(0.94,1)" x="0" y="0" font-size="9.309" style="white-space:pre"><tspan font-weight="bold" fill="#151515">03h59</tspan><tspan fill="#2e2e2e">min</tspan><tspan font-weight="bold" fill="#151515">56s:</tspan></text>
<text transform="translate(551.3,476.2) scale(0.94,1)" x="0" y="0" font-size="9.309" style="white-space:pre"><tspan fill="#333">Landing checklist</tspan></text>
<rect x="418.8" y="488.9" width="192.40000000000003" height="83.39999999999998" fill="#fff" stroke="#6a6a6a" stroke-width="1.2"/>
<text transform="translate(426,502.09999999999997) scale(0.94,1)" x="0" y="0" font-size="9.309" style="white-space:pre"><tspan font-weight="bold" fill="#151515">03h59</tspan><tspan fill="#2e2e2e">min</tspan><tspan font-weight="bold" fill="#151515">43s: </tspan><tspan fill="#e23c3c" text-decoration="underline">Capt:</tspan><tspan fill="#e23c3c" font-style="italic"> "[What's going on?]"</tspan></text>
<text transform="translate(426,518.1) scale(0.94,1)" x="0" y="0" font-size="9.309" style="white-space:pre"><tspan font-weight="bold" fill="#151515">03h59</tspan><tspan fill="#2e2e2e">min</tspan><tspan font-weight="bold" fill="#151515">44s: </tspan><tspan fill="#e23c3c" text-decoration="underline">F/O:</tspan><tspan fill="#e23c3c" font-style="italic"> "Low fog low fog"</tspan></text>
<text transform="translate(426,533.6999999999999) scale(0.94,1)" x="0" y="0" font-size="9.309" style="white-space:pre"><tspan font-weight="bold" fill="#151515">03h59</tspan><tspan fill="#2e2e2e">min</tspan><tspan font-weight="bold" fill="#151515">44s: </tspan><tspan fill="#3f8f3f" text-decoration="underline">AAW721:</tspan><tspan fill="#3f8f3f" font-style="italic"> "AFwan"</tspan></text>
<text transform="translate(426,549.6999999999999) scale(0.94,1)" x="0" y="0" font-size="9.309" style="white-space:pre"><tspan font-weight="bold" fill="#151515">03h59</tspan><tspan fill="#2e2e2e">min</tspan><tspan font-weight="bold" fill="#151515">44s: </tspan><tspan fill="#e23c3c" text-decoration="underline">SV:</tspan><tspan fill="#e23c3c"> 1000</tspan></text>
<text transform="translate(426,565.4) scale(0.94,1)" x="0" y="0" font-size="9.309" style="white-space:pre"><tspan font-weight="bold" fill="#151515">03h59</tspan><tspan fill="#2e2e2e">min</tspan><tspan font-weight="bold" fill="#151515">46s: </tspan><tspan fill="#3f8f3f" text-decoration="underline">Capt:</tspan><tspan fill="#3f8f3f" font-style="italic"> "OK Shukran"</tspan></text>
<rect x="528.2" y="581.3" width="159.0999999999999" height="127.5" fill="#fff" stroke="#6a6a6a" stroke-width="1.2"/>
<text transform="translate(536.6,593.8) scale(0.94,1)" x="0" y="0" font-size="9.309" style="white-space:pre"><tspan font-weight="bold" fill="#151515">04h00</tspan><tspan fill="#2e2e2e">min</tspan><tspan font-weight="bold" fill="#151515">21s: </tspan><tspan fill="#e23c3c" text-decoration="underline">Capt:</tspan><tspan fill="#e23c3c"> "OK one</tspan></text>
<text transform="translate(536.6,603.5) scale(0.94,1)" x="0" y="0" font-size="9.309" style="white-space:pre"><tspan fill="#e23c3c">above…"</tspan></text>
<text transform="translate(536.6,620.1) scale(0.94,1)" x="0" y="0" font-size="9.309" style="white-space:pre"><tspan font-weight="bold" fill="#151515">04h00</tspan><tspan fill="#2e2e2e">min</tspan><tspan font-weight="bold" fill="#151515">22s: </tspan><tspan fill="#e23c3c" text-decoration="underline">SV:</tspan><tspan fill="#e23c3c"> 100 ABOVE</tspan></text>
<text transform="translate(536.6,636.6999999999999) scale(0.94,1)" x="0" y="0" font-size="9.309" style="white-space:pre"><tspan font-weight="bold" fill="#151515">04h00</tspan><tspan fill="#2e2e2e">min</tspan><tspan font-weight="bold" fill="#151515">22s: </tspan><tspan fill="#e23c3c" text-decoration="underline">Capt:</tspan><tspan fill="#e23c3c"> "…[now]"</tspan></text>
<text transform="translate(536.6,652.3) scale(0.94,1)" x="0" y="0" font-size="9.309" style="white-space:pre"><tspan font-weight="bold" fill="#151515">04h00</tspan><tspan fill="#2e2e2e">min</tspan><tspan font-weight="bold" fill="#151515">22s:</tspan><tspan fill="#e23c3c" text-decoration="underline">F/O:</tspan><tspan fill="#e23c3c"> "[You see?]"</tspan></text>
<text transform="translate(536.6,668.8) scale(0.94,1)" x="0" y="0" font-size="9.309" style="white-space:pre"><tspan font-weight="bold" fill="#151515">04h00</tspan><tspan fill="#2e2e2e">min</tspan><tspan font-weight="bold" fill="#151515">24s: </tspan><tspan fill="#e23c3c" text-decoration="underline">Capt:</tspan><tspan fill="#e23c3c"> "Continue"</tspan></text>
<text transform="translate(536.6,684.4) scale(0.94,1)" x="0" y="0" font-size="9.309" style="white-space:pre"><tspan font-weight="bold" fill="#151515">04h00</tspan><tspan fill="#2e2e2e">min</tspan><tspan font-weight="bold" fill="#151515">24s: </tspan><tspan fill="#e23c3c" text-decoration="underline">SV:</tspan><tspan fill="#e23c3c"> 500</tspan></text>
<text transform="translate(536.6,700.6) scale(0.94,1)" x="0" y="0" font-size="9.309" style="white-space:pre"><tspan font-weight="bold" fill="#151515">04h00</tspan><tspan fill="#2e2e2e">min</tspan><tspan font-weight="bold" fill="#151515">26s: </tspan><tspan fill="#e23c3c" text-decoration="underline">F/O:</tspan><tspan fill="#e23c3c"> "Continue"</tspan></text>
<rect x="695" y="589.1" width="91" height="50.89999999999998" fill="#fff" stroke="#6a6a6a" stroke-width="1.2"/>
<text transform="translate(703.2,602.4) scale(0.94,1)" x="0" y="0" font-size="9.309" style="white-space:pre"><tspan font-weight="bold" fill="#151515">04h00</tspan><tspan fill="#2e2e2e">min</tspan><tspan font-weight="bold" fill="#151515">30s </tspan><tspan fill="#333">→</tspan></text>
<text transform="translate(703.2,612.3) scale(0.94,1)" x="0" y="0" font-size="9.309" style="white-space:pre"><tspan font-weight="bold" fill="#151515">04h00</tspan><tspan fill="#2e2e2e">min</tspan><tspan font-weight="bold" fill="#151515">48s:</tspan></text>
<text transform="translate(703.2,623.3) scale(0.94,1)" x="0" y="0" font-size="9.309" style="white-space:pre"><tspan fill="#2f9a2f" font-weight="bold">ATC ↔ AAW721</tspan></text>
<text transform="translate(703.2,633.1999999999999) scale(0.94,1)" x="0" y="0" font-size="9.309" style="white-space:pre"><tspan fill="#2f9a2f" font-weight="bold">about fog</tspan></text>
<rect x="717.5" y="654.5" width="77.70000000000005" height="65.5" fill="#fff" stroke="#6a6a6a" stroke-width="1.2"/>
<text transform="translate(724.2,665.3) scale(0.94,1)" x="0" y="0" font-size="9.309" style="white-space:pre"><tspan font-weight="bold" fill="#151515">04h00</tspan><tspan fill="#2e2e2e">min</tspan><tspan font-weight="bold" fill="#151515">42s:</tspan></text>
<text transform="translate(724.2,676.3) scale(0.94,1)" x="0" y="0" font-size="9.309" style="white-space:pre"><tspan fill="#e23c3c" text-decoration="underline">F/O:</tspan><tspan fill="#e23c3c"> "300"</tspan></text>
<text transform="translate(724.2,691.6999999999999) scale(0.94,1)" x="0" y="0" font-size="9.309" style="white-space:pre"><tspan font-weight="bold" fill="#151515">04h00</tspan><tspan fill="#2e2e2e">min</tspan><tspan font-weight="bold" fill="#151515">42s:</tspan></text>
<text transform="translate(724.2,702.8) scale(0.94,1)" x="0" y="0" font-size="9.309" style="white-space:pre"><tspan fill="#e23c3c" text-decoration="underline">SV:</tspan><tspan fill="#e23c3c"> TOO LOW</tspan></text>
<text transform="translate(724.2,713.8) scale(0.94,1)" x="0" y="0" font-size="9.309" style="white-space:pre"><tspan fill="#e23c3c">TERRAIN"</tspan></text>
<rect x="809.8" y="610.3" width="96.5" height="45.10000000000002" fill="#fff" stroke="#ddd" stroke-width="1.2"/>
<text transform="translate(816.9,622.1999999999999) scale(0.94,1)" x="0" y="0" font-size="9.309" style="white-space:pre"><tspan font-weight="bold" fill="#151515">04h00</tspan><tspan fill="#2e2e2e">min</tspan><tspan font-weight="bold" fill="#151515">43s: </tspan><tspan fill="#e23c3c" text-decoration="underline">Capt:</tspan></text>
<text transform="translate(816.9,632.1) scale(0.94,1)" x="0" y="0" font-size="9.309" style="white-space:pre"><tspan fill="#e23c3c" font-style="italic">"Go around"</tspan></text>
<text transform="translate(816.9,647.6) scale(0.94,1)" x="0" y="0" font-size="9.309" style="white-space:pre"><tspan fill="#5a5aa8">AP disconnect</tspan></text>
<path d="M288,214 L330,213.5 L328,206.5 L357,213.5 L331,223 L330,218.5 L288,218.5 z" fill="#1a1ae0"/>
<line x1="349.6" y1="200" x2="349.7" y2="232" stroke="#111" stroke-width="2.2"/>
<rect x="402" y="29.4" width="211" height="32.9" fill="#000"/>
<line x1="443" y1="29.4" x2="443" y2="62.3" stroke="#555" stroke-width="1.2"/>
<line x1="496" y1="29.4" x2="496" y2="62.3" stroke="#555" stroke-width="1.2"/>
<line x1="527.5" y1="29.4" x2="527.5" y2="62.3" stroke="#555" stroke-width="1.2"/>
<line x1="574.4" y1="29.4" x2="574.4" y2="62.3" stroke="#555" stroke-width="1.2"/>
<text x="422" y="38.7" font-size="8" fill="#2fc42f" text-anchor="middle" style="white-space:pre">SPEED</text>
<rect x="446" y="31.5" width="46" height="9.5" fill="#000" stroke="#eee" stroke-width="1.6"/>
<text x="469.0" y="39" font-size="8" fill="#2fc42f" text-anchor="middle">FPA -3.0°</text>
<rect x="499" y="31.5" width="26.399999999999977" height="9.5" fill="#000" stroke="#eee" stroke-width="1.6"/>
<text x="512.2" y="39" font-size="8" fill="#2fc42f" text-anchor="middle">NAV</text>
<text x="550.5" y="56.5" font-size="8" text-anchor="middle"><tspan fill="#2fc42f">MDA </tspan><tspan fill="#2ab4c8">620</tspan></text>
<text x="594" y="38.3" font-size="8" fill="#e8e8e8" text-anchor="middle" style="white-space:pre">AP2</text>
<text x="594" y="47.7" font-size="8" fill="#e8e8e8" text-anchor="middle" style="white-space:pre">1FD2</text>
<text x="594" y="56.5" font-size="8" fill="#e8e8e8" text-anchor="middle" style="white-space:pre">A/THR</text>
<text x="417" y="53.8" font-size="9" fill="#e8e8e8" text-anchor="start" style="white-space:pre">03h59min24s</text>
<rect x="-2" y="310.8" width="185.3" height="32.89999999999998" fill="#000"/>
<line x1="37.5" y1="310.8" x2="37.5" y2="343.7" stroke="#555" stroke-width="1.2"/>
<line x1="69" y1="310.8" x2="69" y2="343.7" stroke="#555" stroke-width="1.2"/>
<line x1="99" y1="310.8" x2="99" y2="343.7" stroke="#555" stroke-width="1.2"/>
<line x1="146" y1="310.8" x2="146" y2="343.7" stroke="#555" stroke-width="1.2"/>
<rect x="0" y="315" width="36" height="8.300000000000011" fill="#000" stroke="#eee" stroke-width="1.6"/>
<text x="18.0" y="321.3" font-size="8" fill="#2fc42f" text-anchor="middle">SPEED</text>
<rect x="40" y="315" width="27.5" height="8.300000000000011" fill="#000" stroke="#eee" stroke-width="1.6"/>
<text x="53.75" y="321.3" font-size="8" fill="#2fc42f" text-anchor="middle">ALT*</text>
<text x="84" y="321.7" font-size="8" fill="#2fc42f" text-anchor="middle" style="white-space:pre">NAV</text>
<text x="122.5" y="338.3" font-size="8" text-anchor="middle"><tspan fill="#2fc42f">MDA </tspan><tspan fill="#2ab4c8">620</tspan></text>
<text x="164.5" y="320.8" font-size="8" fill="#e8e8e8" text-anchor="middle" style="white-space:pre">AP2</text>
<text x="164.5" y="330" font-size="8" fill="#e8e8e8" text-anchor="middle" style="white-space:pre">1FD2</text>
<text x="164.5" y="338" font-size="8" fill="#2ab4c8" text-anchor="middle" style="white-space:pre">A/THR</text>
<text x="-1" y="335.8" font-size="9" fill="#e8e8e8" text-anchor="start" style="white-space:pre">03h58min25s</text>
<rect x="-2" y="363" width="185.3" height="32.30000000000001" fill="#000"/>
<line x1="39.5" y1="363" x2="39.5" y2="395.3" stroke="#555" stroke-width="1.2"/>
<line x1="70.8" y1="363" x2="70.8" y2="395.3" stroke="#555" stroke-width="1.2"/>
<line x1="100.8" y1="363" x2="100.8" y2="395.3" stroke="#555" stroke-width="1.2"/>
<line x1="147.5" y1="363" x2="147.5" y2="395.3" stroke="#555" stroke-width="1.2"/>
<text x="20" y="374" font-size="8" fill="#2fc42f" text-anchor="middle" style="white-space:pre">SPEED</text>
<rect x="41.3" y="366.7" width="27.0" height="9.100000000000023" fill="#000" stroke="#eee" stroke-width="1.6"/>
<text x="54.8" y="373.8" font-size="8" fill="#2fc42f" text-anchor="middle">ALT</text>
<text x="85.5" y="374" font-size="8" fill="#2fc42f" text-anchor="middle" style="white-space:pre">NAV</text>
<text x="124" y="390.8" font-size="8" text-anchor="middle"><tspan fill="#2fc42f">MDA </tspan><tspan fill="#2ab4c8">620</tspan></text>
<text x="165.5" y="373.3" font-size="8" fill="#e8e8e8" text-anchor="middle" style="white-space:pre">AP2</text>
<text x="165.5" y="382.5" font-size="8" fill="#e8e8e8" text-anchor="middle" style="white-space:pre">1FD2</text>
<text x="165.5" y="390.8" font-size="8" fill="#2ab4c8" text-anchor="middle" style="white-space:pre">A/THR</text>
<text x="2.5" y="388.3" font-size="9" fill="#e8e8e8" text-anchor="start" style="white-space:pre">03h58min30s</text>
<rect x="246.5" y="315.4" width="42.4" height="40.2" fill="#4a5c78"/>
<rect x="254" y="321.7" width="28.3" height="25.3" rx="3" fill="#0c1220"/>
<rect x="259" y="328.5" width="18" height="2.5" fill="#6c7280"/>
<text x="268.2" y="342.4" font-size="7.5" font-weight="bold" fill="#f0f0f0" text-anchor="middle">APPR</text>
<rect x="197.5" y="355.6" width="206.5" height="32.0" fill="#000"/>
<line x1="237.5" y1="355.6" x2="237.5" y2="387.6" stroke="#555" stroke-width="1.2"/>
<line x1="273.8" y1="355.6" x2="273.8" y2="387.6" stroke="#555" stroke-width="1.2"/>
<line x1="321.8" y1="355.6" x2="321.8" y2="387.6" stroke="#555" stroke-width="1.2"/>
<line x1="368" y1="355.6" x2="368" y2="387.6" stroke="#555" stroke-width="1.2"/>
<text x="217.5" y="365" font-size="8" fill="#2fc42f" text-anchor="middle" style="white-space:pre">SPEED</text>
<text x="255.5" y="365" font-size="8" fill="#2fc42f" text-anchor="middle" style="white-space:pre">ALT</text>
<rect x="239.3" y="368.7" width="32.69999999999999" height="7.600000000000023" fill="#000" stroke="#eee" stroke-width="1.6"/>
<text x="255.65" y="374.3" font-size="8" fill="#2ab4c8" text-anchor="middle">FINAL</text>
<rect x="275.7" y="358.4" width="44.30000000000001" height="8.5" fill="#000" stroke="#eee" stroke-width="1.6"/>
<text x="297.85" y="364.9" font-size="8" fill="#2fc42f" text-anchor="middle">APP NAV</text>
<text x="345" y="382.9" font-size="8" text-anchor="middle"><tspan fill="#2fc42f">MDA </tspan><tspan fill="#2ab4c8">620</tspan></text>
<text x="386" y="365" font-size="8" fill="#e8e8e8" text-anchor="middle" style="white-space:pre">AP2</text>
<text x="386" y="373.4" font-size="8" fill="#e8e8e8" text-anchor="middle" style="white-space:pre">1FD2</text>
<text x="386" y="382.9" font-size="8" fill="#e8e8e8" text-anchor="middle" style="white-space:pre">A/THR</text>
<text x="198.5" y="381.9" font-size="9" fill="#e8e8e8" text-anchor="start" style="white-space:pre">03h58min33s</text>
<rect x="207.9" y="405" width="183.99999999999997" height="32.5" fill="#000"/>
<line x1="247.4" y1="405" x2="247.4" y2="437.5" stroke="#555" stroke-width="1.2"/>
<line x1="307.7" y1="405" x2="307.7" y2="437.5" stroke="#555" stroke-width="1.2"/>
<line x1="353.8" y1="405" x2="353.8" y2="437.5" stroke="#555" stroke-width="1.2"/>
<text x="227.5" y="414.9" font-size="8" fill="#2fc42f" text-anchor="middle" style="white-space:pre">SPEED</text>
<rect x="250.3" y="407.3" width="55.5" height="9.5" fill="#000" stroke="#eee" stroke-width="1.6"/>
<text x="278.05" y="414.8" font-size="8" fill="#2fc42f" text-anchor="middle">FINAL APP</text>
<text x="330.7" y="432.8" font-size="8" text-anchor="middle"><tspan fill="#2fc42f">MDA </tspan><tspan fill="#2ab4c8">620</tspan></text>
<text x="373" y="414.9" font-size="8" fill="#e8e8e8" text-anchor="middle" style="white-space:pre">AP2</text>
<text x="373" y="423.4" font-size="8" fill="#e8e8e8" text-anchor="middle" style="white-space:pre">1FD2</text>
<text x="373" y="431.8" font-size="8" fill="#e8e8e8" text-anchor="middle" style="white-space:pre">A/THR</text>
<text x="208.8" y="429" font-size="9" fill="#e8e8e8" text-anchor="start" style="white-space:pre">03h58min54s</text>
<rect x="825" y="655.8" width="183.29999999999995" height="35.0" fill="#000" stroke="#c8aa90" stroke-width="1.6"/>
<line x1="865.8" y1="655.8" x2="865.8" y2="690.8" stroke="#555" stroke-width="1.2"/>
<line x1="898.3" y1="655.8" x2="898.3" y2="690.8" stroke="#555" stroke-width="1.2"/>
<line x1="941.2" y1="655.8" x2="941.2" y2="690.8" stroke="#555" stroke-width="1.2"/>
<line x1="970.8" y1="655.8" x2="970.8" y2="690.8" stroke="#555" stroke-width="1.2"/>
<rect x="830" y="658.7" width="30" height="21.3" fill="#000" stroke="#eee" stroke-width="1.6"/>
<text x="845" y="667" font-size="7.5" fill="#e8e8e8" text-anchor="middle" style="white-space:pre">MAN</text>
<text x="845" y="676.5" font-size="7.5" fill="#e8e8e8" text-anchor="middle" style="white-space:pre">TOGA</text>
<rect x="868" y="659" width="28.700000000000045" height="9.299999999999955" fill="#000" stroke="#eee" stroke-width="1.6"/>
<text x="882.35" y="666.3" font-size="8" fill="#2fc42f" text-anchor="middle">SRS</text>
<text x="882" y="675.5" font-size="8" fill="#2ab4c8" text-anchor="middle" style="white-space:pre">ALT</text>
<rect x="901.7" y="659" width="36.59999999999991" height="9.299999999999955" fill="#000" stroke="#eee" stroke-width="1.6"/>
<text x="920.0" y="666.3" font-size="8" fill="#2fc42f" text-anchor="middle">GA TRK</text>
<text x="989" y="675.8" font-size="8" fill="#e8e8e8" text-anchor="middle" style="white-space:pre">1FD2</text>
<rect x="974" y="678.7" width="31" height="8.299999999999955" fill="#000" stroke="#eee" stroke-width="1.6"/>
<text x="989.5" y="685" font-size="8" fill="#2ab4c8" text-anchor="middle">A/THR</text>
<text x="899" y="684" font-size="9" fill="#e8e8e8" text-anchor="start" style="white-space:pre">04h00min44s</text>
<clipPath id="vsclip"><rect x="470.5" y="56" width="68" height="75.1"/></clipPath>
<g clip-path="url(#vsclip)">
<rect x="470.5" y="56" width="68" height="75.1" fill="#3e5276"/>
<rect x="470.5" y="58.8" width="43" height="23.2" fill="#0a0a0a"/>
<text x="473.3" y="79.2" font-size="14" fill="#cfcfcf" textLength="22.7" lengthAdjust="spacingAndGlyphs">-3.0</text>
<text x="478" y="64.5" font-size="4" fill="#777">TRK</text><text x="502" y="64.5" font-size="4" fill="#aaa">FPA</text>
<circle cx="475.5" cy="95.3" r="6" fill="#2a2c26" stroke="#b8bcc0" stroke-width="1.4"/>
<text x="471" y="112" font-size="4" fill="#ddd">ERING</text><text x="471" y="117" font-size="4" fill="#ddd">ALT</text>
<circle cx="502.5" cy="107.4" r="16.5" fill="none" stroke="#c8d0e0" stroke-width="1.2" stroke-dasharray="24,3"/>
<circle cx="502.5" cy="107.4" r="13" fill="#c4c4c0"/>
<path d="M493,117 A13,13 0 0 0 514,113 A10,10 0 0 1 493,117 z" fill="#4a4a4a"/>
<circle cx="502" cy="106" r="6" fill="#d8d8d4"/>
<text x="527.4" y="101" font-size="4.2" fill="#e0e0e0" text-anchor="middle">PUSH</text><text x="527.4" y="106" font-size="4.2" fill="#e0e0e0" text-anchor="middle">V/S</text><text x="527.4" y="111" font-size="4.2" fill="#e0e0e0" text-anchor="middle">LEVEL</text><text x="527.4" y="116" font-size="4.2" fill="#e0e0e0" text-anchor="middle">OFF</text>
<text x="502" y="90" font-size="4.5" fill="#ddd" text-anchor="middle">UP</text><text x="502" y="128" font-size="4.5" fill="#ddd" text-anchor="middle">DN</text>
<circle cx="532.3" cy="60.5" r="2.4" fill="#aab"/>
</g>
<clipPath id="altclip"><rect x="602.7" y="195.4" width="61.2" height="82.1"/></clipPath>
<g clip-path="url(#altclip)">
<rect x="602.7" y="195.4" width="61.2" height="82.1" fill="#3e5478"/>
<rect x="602.7" y="195.4" width="61.2" height="31" fill="#060606"/>
<text x="604" y="222.3" font-size="17" fill="#d4d4d4" textLength="42.7" lengthAdjust="spacingAndGlyphs">02000</text>
<text x="623" y="207.4" font-size="5" fill="#ccc">ALT</text><line x1="633" y1="205.5" x2="650" y2="205.5" stroke="#ccc" stroke-width="0.7"/><line x1="633" y1="205.5" x2="633" y2="208" stroke="#ccc" stroke-width="0.7"/><text x="651" y="207.4" font-size="5" fill="#ccc">LVL/CH</text>
<circle cx="662.5" cy="215.8" r="3.5" fill="#eee"/>
<line x1="609" y1="238" x2="609" y2="275" stroke="#b8c4dc" stroke-width="1"/>
<text x="623" y="238" font-size="4.5" fill="#ddd">100</text><text x="643" y="238" font-size="4.5" fill="#ddd">1000</text>
<circle cx="635.5" cy="256" r="16.5" fill="#050505" stroke="#cfd6e6" stroke-width="1.3"/>
<circle cx="636" cy="257" r="10" fill="#a8a8a8"/>
<circle cx="635" cy="255" r="5" fill="#c0c0c0"/>
<text x="603.5" y="274.5" font-size="9" fill="#e8e8e8" textLength="53" lengthAdjust="spacingAndGlyphs">03h59min57s</text>
</g>
<line x1="1059.5" y1="44" x2="1059.5" y2="730" stroke="#666" stroke-width="2.4"/>
<path d="M1059,33.5 L1055,46 L1063,46 z" fill="#000"/>
<line x1="30" y1="729.5" x2="1059" y2="729.5" stroke="#444" stroke-width="2"/>
<path d="M20.5,729.7 L34,725.7 L34,733.7 z" fill="#000"/>
<text x="1068" y="47.7" font-size="18.5" font-weight="bold" fill="#111" textLength="108" lengthAdjust="spacingAndGlyphs">Altitude (ft)</text>
<text x="12" y="756.2" font-size="18" font-weight="bold" fill="#111" textLength="258.5" lengthAdjust="spacingAndGlyphs">Distance to threshold (NM)</text>
<g class="serif" font-size="19.5" fill="#222">
<text x="1068" y="90" textLength="39.7" lengthAdjust="spacingAndGlyphs">2000</text>
<text x="1066" y="415" textLength="38.3" lengthAdjust="spacingAndGlyphs">1000</text>
<text x="1072.7" y="740" font-size="20.5" text-anchor="middle">0</text>
</g>
<g class="serif" font-size="20.5" fill="#222" text-anchor="middle">
<text x="379.8" y="750">6</text>
<text x="493.5" y="750">5</text>
<text x="606.5" y="750">4</text>
<text x="722" y="750">3</text>
<text x="833.8" y="750">2</text>
<text x="946.2" y="750">1</text>
<text x="1061" y="750">0</text>
</g>
<text x="1065.5" y="302.2" font-size="18.5" font-weight="bold" fill="#226b3a" textLength="63" lengthAdjust="spacingAndGlyphs">1350 ft</text>
<text x="1064.3" y="538" font-size="18" font-weight="bold" fill="#226b3a" textLength="83.5" lengthAdjust="spacingAndGlyphs">MDA 620</text>
<text x="1066.7" y="574.2" font-size="18" font-weight="bold" fill="#666" textLength="116" lengthAdjust="spacingAndGlyphs">above MAPt</text>
<text x="1082" y="633" font-size="18" font-weight="bold" fill="#7a7a7a" textLength="104" lengthAdjust="spacingAndGlyphs">THR + 50 ft</text>
<rect x="1059" y="650" width="110" height="11.5" fill="#000"/>
<text x="1064" y="651" font-size="18" font-weight="bold" fill="#111" stroke="#fff" stroke-width="2.5" paint-order="stroke" textLength="104" lengthAdjust="spacingAndGlyphs">GND 262 ft</text>
<text x="946.3" y="50.5" font-size="18" font-weight="bold" fill="#1f6e3c" textLength="85" lengthAdjust="spacingAndGlyphs">D (MAPt)</text>
<text x="956" y="73.2" font-size="18" font-weight="bold" fill="#1f6e3c" textLength="64.5" lengthAdjust="spacingAndGlyphs">0.6 NM</text></g>
</svg>
</body></html>
